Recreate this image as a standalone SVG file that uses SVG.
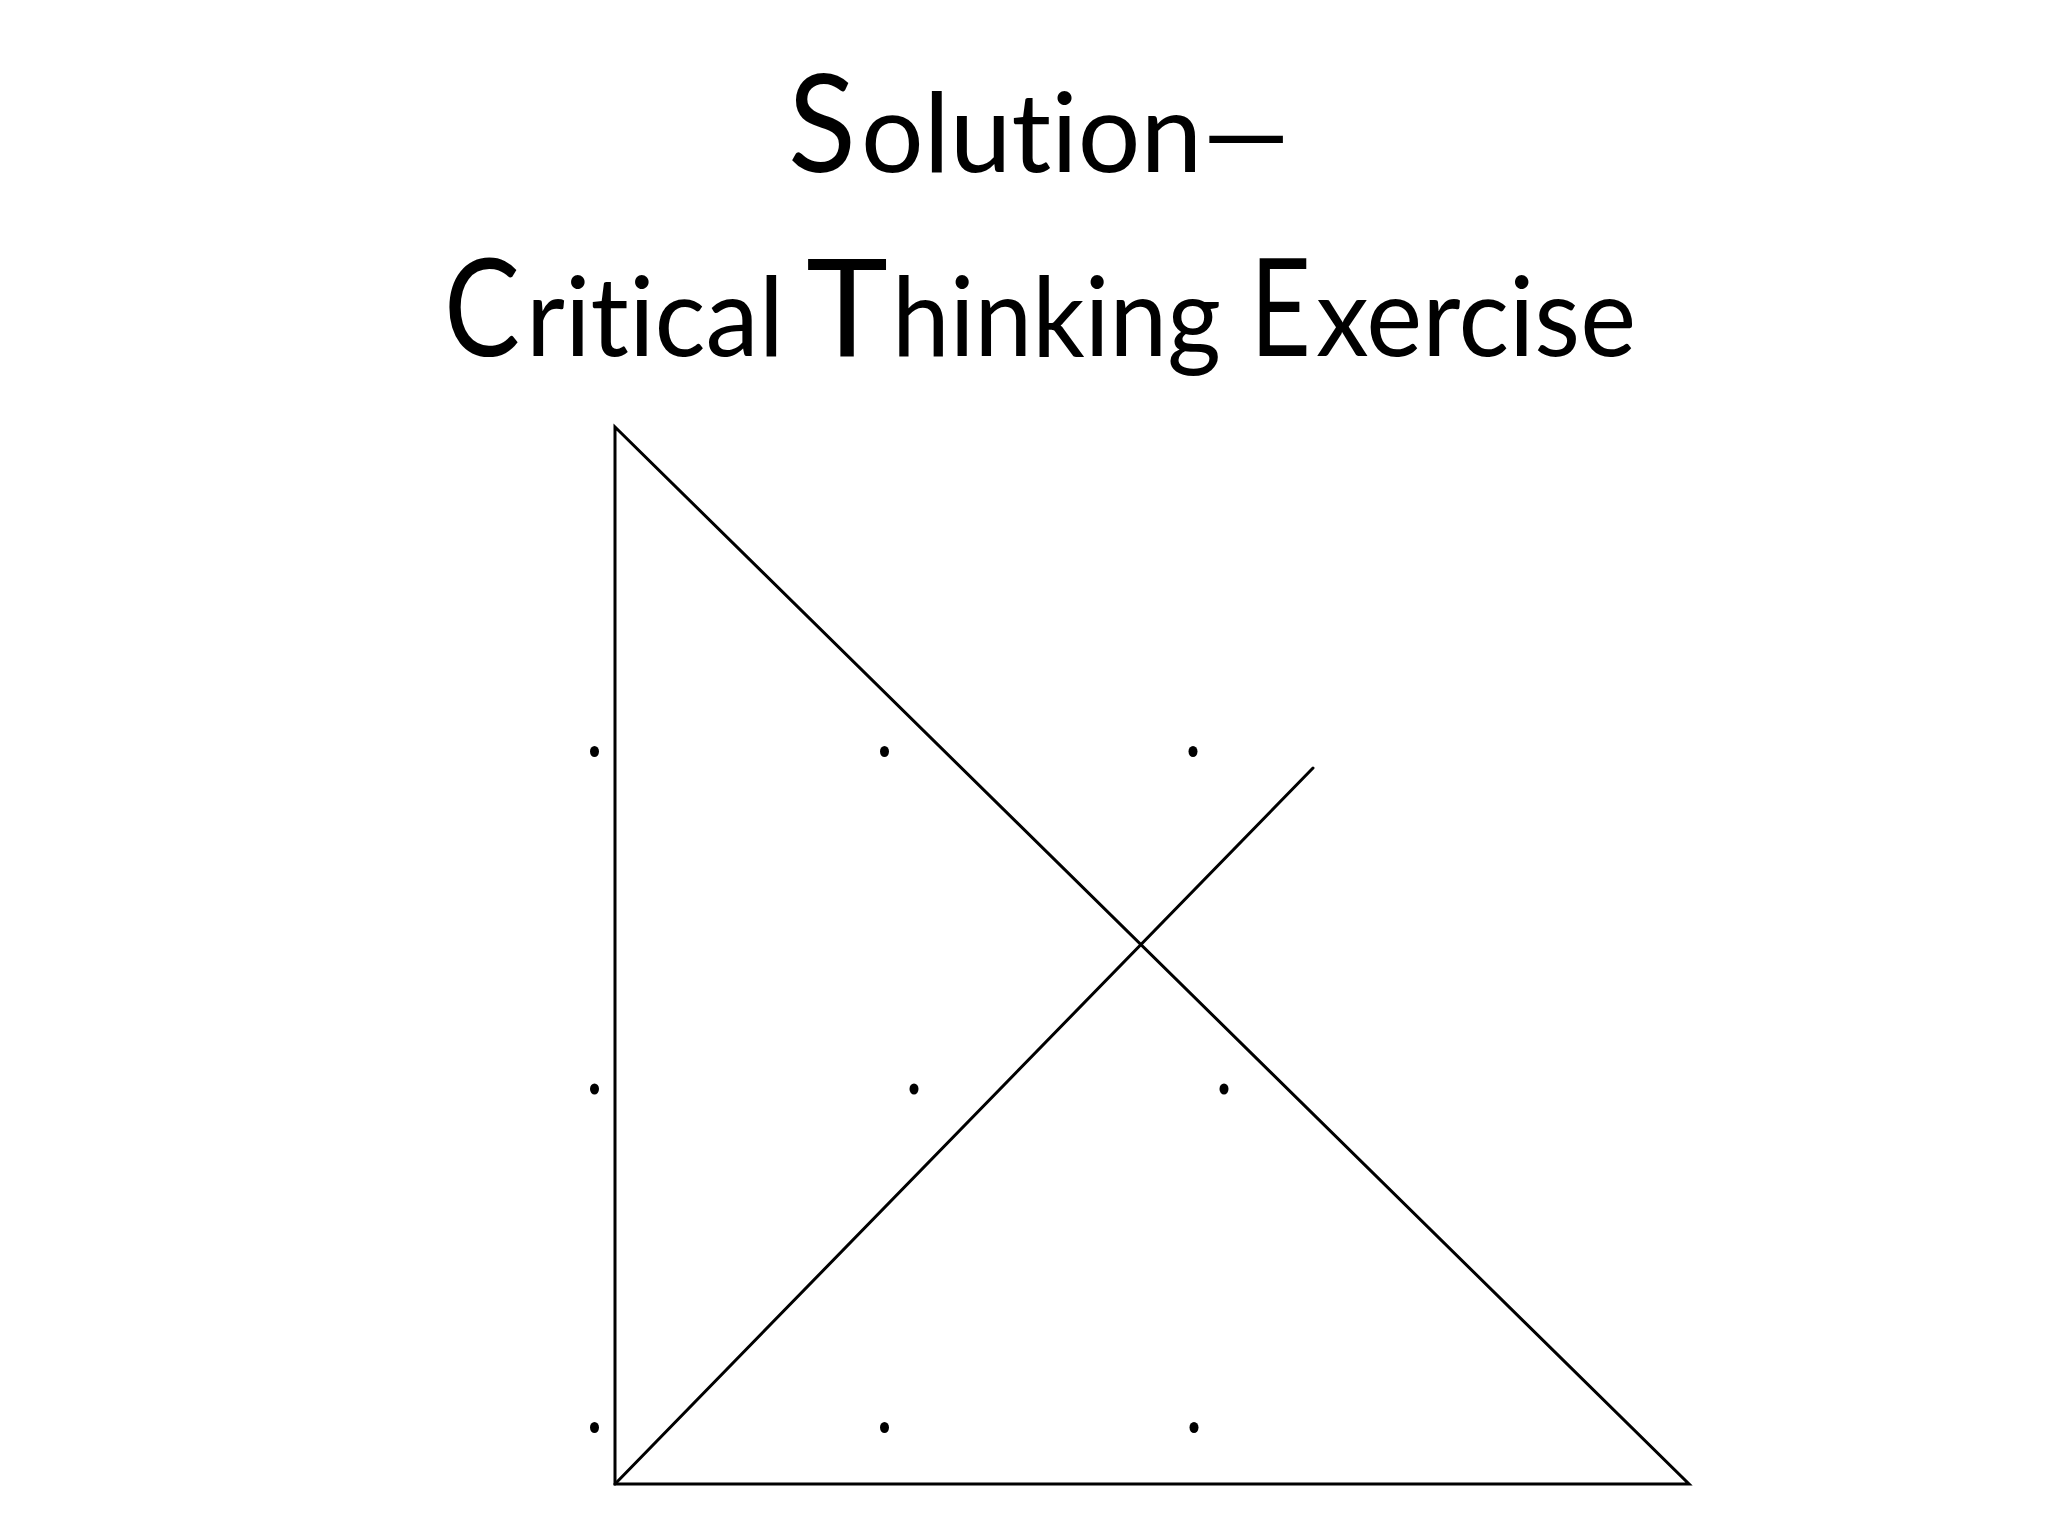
<svg xmlns="http://www.w3.org/2000/svg" width="2048" height="1536" viewBox="0 0 2048 1536">
<style>
.t{font-family:"Lato","Liberation Sans",sans-serif;fill:#000;font-variant-ligatures:none;}
.big{font-size:136px;}
.sm{font-size:110px;}
.ln{stroke:#000;stroke-width:3;fill:none;stroke-linejoin:miter;stroke-linecap:round;}
.dot{fill:#000;}
</style>
<rect width="2048" height="1536" fill="#fff"/>
<g id="title">
<text class="t big" x="788" y="172" textLength="68" lengthAdjust="spacingAndGlyphs">S</text>
<text class="t sm" x="861" y="172" textLength="429" lengthAdjust="spacingAndGlyphs">olution—</text>
<text class="t big" x="444" y="356" textLength="76" lengthAdjust="spacingAndGlyphs">C</text>
<text class="t sm" x="526" y="356" textLength="258" lengthAdjust="spacingAndGlyphs">ritical</text>
<text class="t big" x="806" y="356" textLength="82" lengthAdjust="spacingAndGlyphs">T</text>
<text class="t sm" x="892" y="356" textLength="329" lengthAdjust="spacingAndGlyphs">hinking</text>
<text class="t big" x="1250" y="356" textLength="61" lengthAdjust="spacingAndGlyphs">E</text>
<text class="t sm" x="1316" y="356" textLength="320" lengthAdjust="spacingAndGlyphs">xercise</text>
</g>
<g id="connectors">
<path class="ln" d="M615 427 L615 1484 L1689 1484 Z"/>
<path class="ln" d="M615 1484 L1313 768"/>
</g>
<g id="dots">
<ellipse class="dot" cx="594.5" cy="751.5" rx="4.5" ry="5.5"/>
<ellipse class="dot" cx="884.5" cy="751.5" rx="4.5" ry="5.5"/>
<ellipse class="dot" cx="1193" cy="751.5" rx="4.5" ry="5.5"/>
<ellipse class="dot" cx="594.5" cy="1089" rx="4.5" ry="5.5"/>
<ellipse class="dot" cx="914" cy="1089" rx="4.5" ry="5.5"/>
<ellipse class="dot" cx="1224" cy="1089" rx="4.5" ry="5.5"/>
<ellipse class="dot" cx="594.5" cy="1427.5" rx="4.5" ry="5.5"/>
<ellipse class="dot" cx="884.5" cy="1427.5" rx="4.5" ry="5.5"/>
<ellipse class="dot" cx="1194" cy="1427.5" rx="4.5" ry="5.5"/>
</g>
</svg>
